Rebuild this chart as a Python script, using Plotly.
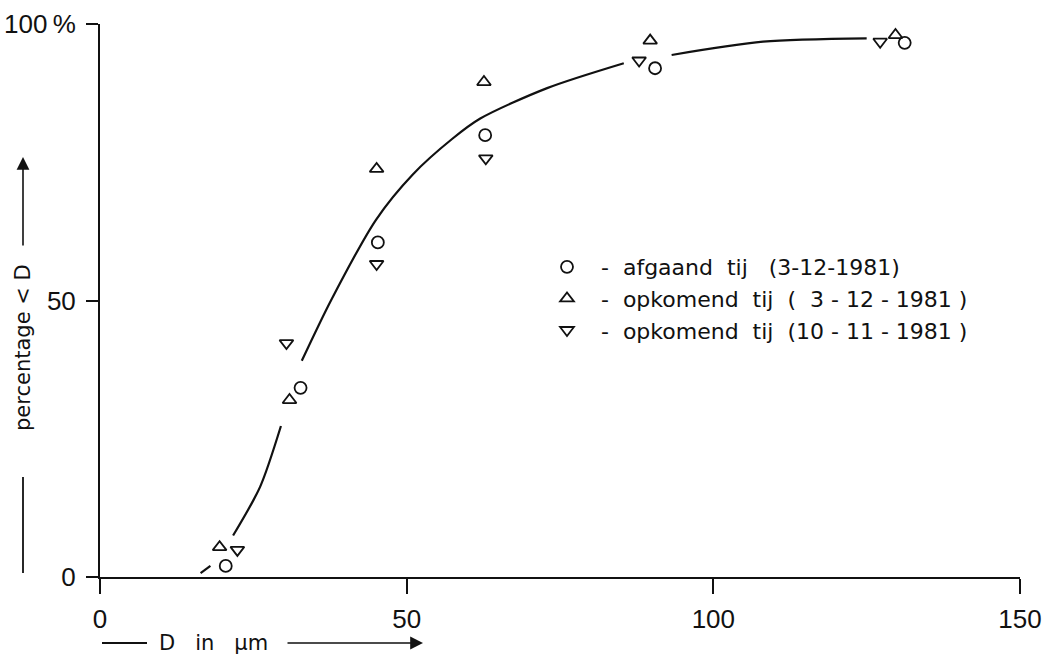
import plotly.graph_objects as go

# ---- data ----
d_afgaand = [20.5, 32.7, 45.3, 62.8, 90.5, 131.2]
p_afgaand = [2.0, 34.2, 60.5, 79.9, 92.0, 96.6]

d_op_0312 = [19.5, 30.9, 45.1, 62.6, 89.7, 129.7]
p_op_0312 = [5.4, 32.0, 73.8, 89.5, 97.0, 98.0]

d_op_1011 = [22.4, 30.4, 45.1, 62.9, 87.9, 127.2]
p_op_1011 = [4.9, 42.3, 56.6, 75.7, 93.4, 96.8]

# fitted curve (broken where it passes the symbols)
curve_d = [16.4, 18.0, None, 21.7, 26.1, 29.5, None, 32.9, 37.7, 45.0, 51.0, 57.4, 62.0, 72.9, 85.4,
           None, 93.2, 108.1, 125.0]
curve_p = [0.7, 2.0, None, 7.5, 16.3, 27.3, None, 39.1, 50.1, 64.6, 72.8, 79.2, 82.9, 88.4, 92.9,
           None, 94.4, 96.8, 97.4]

x_ticks = [0, 50, 100, 150]
y_ticks = [0, 50, 100]
y_ticktext = ["0", "50", "100\u2009%"]

NB = "\u00a0"
names = [NB * 2 + "-" + NB * 2 + "afgaand" + NB * 2 + "tij" + NB * 3 + "(3-12-1981)",
         NB * 2 + "-" + NB * 2 + "opkomend" + NB * 2 + "tij" + NB * 2 + "(" + NB * 2 + "3" + NB + "-" + NB + "12"
         + NB + "-" + NB + "1981" + NB + ")",
         NB * 2 + "-" + NB * 2 + "opkomend" + NB * 2 + "tij" + NB * 2 + "(10" + NB + "-" + NB + "11" + NB + "-"
         + NB + "1981" + NB + ")"]

FONT = "DejaVu Sans"
TICKFONT = "Liberation Sans, DejaVu Sans"
BLACK = "#111111"

fig = go.Figure()
fig.add_trace(go.Scatter(x=curve_d, y=curve_p, mode="lines",
                         line=dict(color=BLACK, width=2.2, shape="spline", smoothing=0.8),
                         connectgaps=False, showlegend=False, hoverinfo="skip"))

for d, p, sym, nm in [(d_afgaand, p_afgaand, "circle-open", names[0]),
                      (d_op_0312, p_op_0312, "triangle-up-open", names[1]),
                      (d_op_1011, p_op_1011, "triangle-down-open", names[2])]:
    fig.add_trace(go.Scatter(x=d, y=p, mode="markers", name=nm,
                             marker=dict(symbol=sym, size=12, color=BLACK, line=dict(width=1.8, color=BLACK))))

L, T, PW, PH = 100, 24, 920, 553
W, H = 1051, 656

def px2paper(px, py):
    return (px - L) / PW, (T + PH - py) / PH

fig.update_layout(
    width=W, height=H,
    margin=dict(l=L, r=W - L - PW, t=T, b=H - T - PH),
    paper_bgcolor="white", plot_bgcolor="white",
    font=dict(family=FONT, size=22, color=BLACK),
    showlegend=True,
    legend=dict(x=px2paper(547, 0)[0], y=px2paper(0, 246)[1], xanchor="left", yanchor="top",
                bgcolor="rgba(0,0,0,0)", font=dict(size=22, family=FONT), tracegroupgap=0,
                itemwidth=30),
    xaxis=dict(range=[0, 150], tickvals=x_ticks, ticks="outside", ticklen=15, tickwidth=1.5,
               tickcolor=BLACK, showline=True, linecolor=BLACK, linewidth=2, showgrid=False,
               zeroline=False, tickfont=dict(size=26, family=TICKFONT), ticklabelstandoff=3,
               automargin=False),
    yaxis=dict(range=[0, 100], tickvals=y_ticks, ticktext=y_ticktext, ticks="outside", ticklen=12,
               tickwidth=1.5, tickcolor=BLACK, showline=True, linecolor=BLACK, linewidth=2,
               showgrid=False, zeroline=False, tickfont=dict(size=26, family=TICKFONT),
               ticklabelstandoff=5, automargin=False),
)

# x-axis title: "—— D in μm ————>"
xt_y = px2paper(0, 643)[1]
fig.add_shape(type="line", xref="paper", yref="paper", x0=px2paper(102, 0)[0], x1=px2paper(147, 0)[0],
              y0=xt_y, y1=xt_y, line=dict(color=BLACK, width=1.8))
fig.add_annotation(xref="paper", yref="paper", x=px2paper(213, 0)[0], y=xt_y,
                   text="D" + NB * 3 + "in" + NB * 3 + "\u03bcm",
                   showarrow=False, font=dict(size=21, family=FONT), xanchor="center", yanchor="middle")
fig.add_annotation(xref="paper", yref="paper", x=px2paper(423, 0)[0], y=xt_y, text="",
                   showarrow=True, ax=-137, ay=0, arrowhead=2, arrowsize=1.6, arrowwidth=1.6, arrowcolor=BLACK)

# y-axis title: "—— percentage < D ——>"
yt_x = px2paper(23, 0)[0]
fig.add_shape(type="line", xref="paper", yref="paper", x0=yt_x, x1=yt_x,
              y0=px2paper(0, 573)[1], y1=px2paper(0, 477)[1], line=dict(color=BLACK, width=1.8))
fig.add_annotation(xref="paper", yref="paper", x=yt_x, y=px2paper(0, 348)[1], text="percentage" + NB + "<" + NB + "D",
                   textangle=-90, showarrow=False, font=dict(size=21, family=FONT),
                   xanchor="center", yanchor="middle")
fig.add_annotation(xref="paper", yref="paper", x=yt_x, y=px2paper(0, 157)[1], text="",
                   showarrow=True, ax=0, ay=90, arrowhead=2, arrowsize=1.6, arrowwidth=1.6, arrowcolor=BLACK)

fig.write_html("out.html", config={"displayModeBar": False},
               post_script="document.body.style.margin='0';")
